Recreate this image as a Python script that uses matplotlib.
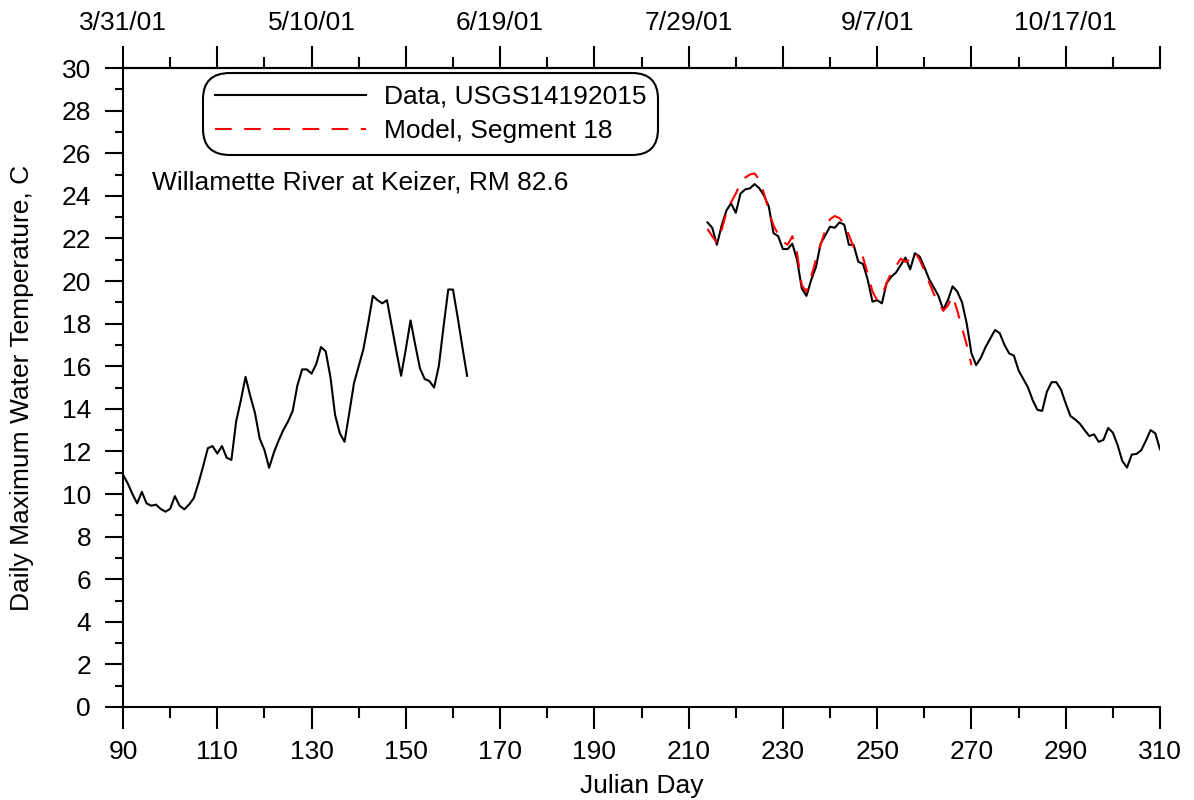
import matplotlib
matplotlib.use("Agg")
import matplotlib.pyplot as plt
from matplotlib.ticker import FixedLocator

plt.rcParams['font.family'] = ['Liberation Sans', 'DejaVu Sans']

# spring data, USGS gage
days_spring = list(range(90, 164))
temp_spring = [10.9, 10.5, 10.0, 9.56, 10.1, 9.56, 9.45, 9.5, 9.3, 9.17,
               9.3, 9.9, 9.45, 9.28, 9.5, 9.8, 10.5, 11.3, 12.15, 12.25,
               11.9, 12.25, 11.7, 11.6, 13.4, 14.4, 15.5, 14.6, 13.8, 12.6,
               12.07, 11.23, 11.94, 12.5, 13.0, 13.4, 13.9, 15.1, 15.85, 15.85,
               15.65, 16.1, 16.9, 16.7, 15.5, 13.7, 12.85, 12.45, 13.8, 15.2,
               16.0, 16.8, 18.0, 19.3, 19.1, 18.95, 19.1, 17.9, 16.7, 15.55,
               16.8, 18.15, 17.0, 15.9, 15.4, 15.3, 15.0, 16.0, 17.85, 19.6,
               19.6, 18.3, 16.9, 15.55]

# summer/fall data, USGS gage
days_fall = list(range(214, 311))
temp_fall = [22.75, 22.5, 21.7, 22.6, 23.3, 23.65, 23.2, 24.1, 24.3, 24.35,
             24.55, 24.35, 24.0, 23.5, 22.25, 22.1, 21.5, 21.5, 21.75, 21.0,
             19.65, 19.3, 20.05, 20.65, 21.75, 22.15, 22.55, 22.5, 22.75, 22.65,
             21.7, 21.7, 20.9, 20.8, 20.05, 19.03, 19.1, 18.95, 19.9, 20.2,
             20.4, 20.75, 21.1, 20.55, 21.3, 21.15, 20.65, 20.1, 19.7, 19.3,
             18.65, 19.1, 19.75, 19.5, 19.0, 18.0, 16.6, 16.05, 16.4, 16.9,
             17.3, 17.7, 17.55, 17.0, 16.6, 16.5, 15.8, 15.4, 15.0, 14.4,
             13.95, 13.9, 14.8, 15.25, 15.25, 14.9, 14.25, 13.66, 13.5, 13.3,
             13.0, 12.72, 12.8, 12.45, 12.54, 13.1, 12.88, 12.3, 11.55, 11.24,
             11.85, 11.88, 12.05, 12.5, 13.0, 12.85, 12.1]

# model, segment 18
days_model = list(range(214, 271))
temp_model = [22.45, 22.1, 21.8, 22.4, 23.2, 23.7, 24.1, 24.6, 24.85, 25.0,
              25.05, 24.75, 24.1, 23.3, 22.6, 22.2, 21.85, 21.7, 22.1, 21.3,
              19.8, 19.5, 20.2, 21.0, 21.7, 22.4, 22.9, 23.05, 22.95, 22.7,
              22.15, 21.6, 21.35, 21.1, 20.35, 19.5, 19.1, 19.3, 19.9, 20.4,
              20.7, 21.05, 20.9, 21.0, 21.35, 21.0, 20.5, 19.95, 19.4, 19.0,
              18.6, 18.85, 19.3, 18.6, 17.8, 17.0, 16.05]

x_major = list(range(90, 311, 20))
x_minor = list(range(90, 311, 10))
top_labels = ['3/31/01', '', '5/10/01', '', '6/19/01', '', '7/29/01', '',
              '9/7/01', '', '10/17/01', '']

fs = 19

fig = plt.figure(figsize=(11.94, 8), dpi=100)
ax = fig.add_axes([123/1194, 1 - 707/800, (1160-123)/1194, (707-68)/800])

ax.plot(days_spring, temp_spring, color='black', lw=1.5, label='Data, USGS14192015')
ax.plot(days_fall, temp_fall, color='black', lw=1.5)
ax.plot(days_model, temp_model, color='red', lw=1.5, dashes=(8, 6),
        label='Model, Segment 18')

ax.set_xlim(90, 310)
ax.set_ylim(0, 30)
ax.xaxis.set_major_locator(FixedLocator(x_major))
ax.xaxis.set_minor_locator(FixedLocator(x_minor))
ax.yaxis.set_major_locator(FixedLocator(range(0, 31, 2)))
ax.yaxis.set_minor_locator(FixedLocator(range(0, 31)))
ax.spines['right'].set_visible(False)
for s in ['left', 'bottom', 'top']:
    ax.spines[s].set_linewidth(1.5)
ax.tick_params(which='major', direction='out', length=13, width=1.5, labelsize=fs)
ax.tick_params(which='minor', direction='out', length=6, width=1.5)
ax.tick_params(axis='y', which='major', pad=10)
ax.tick_params(axis='x', which='major', length=16, pad=8)
ax.tick_params(axis='x', which='minor', length=8)

sec = ax.secondary_xaxis('top')
sec.xaxis.set_major_locator(FixedLocator(x_major))
sec.set_xticklabels(top_labels)
sec.xaxis.set_minor_locator(FixedLocator(x_minor))
sec.spines['top'].set_linewidth(1.5)
sec.tick_params(which='major', direction='out', length=16, width=1.5, labelsize=fs, pad=8)
sec.tick_params(which='minor', direction='out', length=8, width=1.5)

ax.set_xlabel('Julian Day', fontsize=fs, labelpad=7)
ax.set_ylabel('Daily Maximum Water Temperature, C', fontsize=fs, labelpad=20)

leg = ax.legend(loc='upper left', bbox_to_anchor=(0.085, 0.98), fontsize=fs,
                handlelength=5.7, handletextpad=0.7, fancybox=True,
                framealpha=1, edgecolor='black', borderpad=0.15,
                labelspacing=0.4, borderaxespad=0)
leg.get_frame().set_linewidth(1.5)
leg.get_frame().set_boxstyle('round', pad=0.3, rounding_size=1.0)

ax.text(0.028, 0.821, 'Willamette River at Keizer, RM 82.6', transform=ax.transAxes,
        fontsize=fs, va='center', ha='left')

fig.savefig('out.png', dpi=100)
